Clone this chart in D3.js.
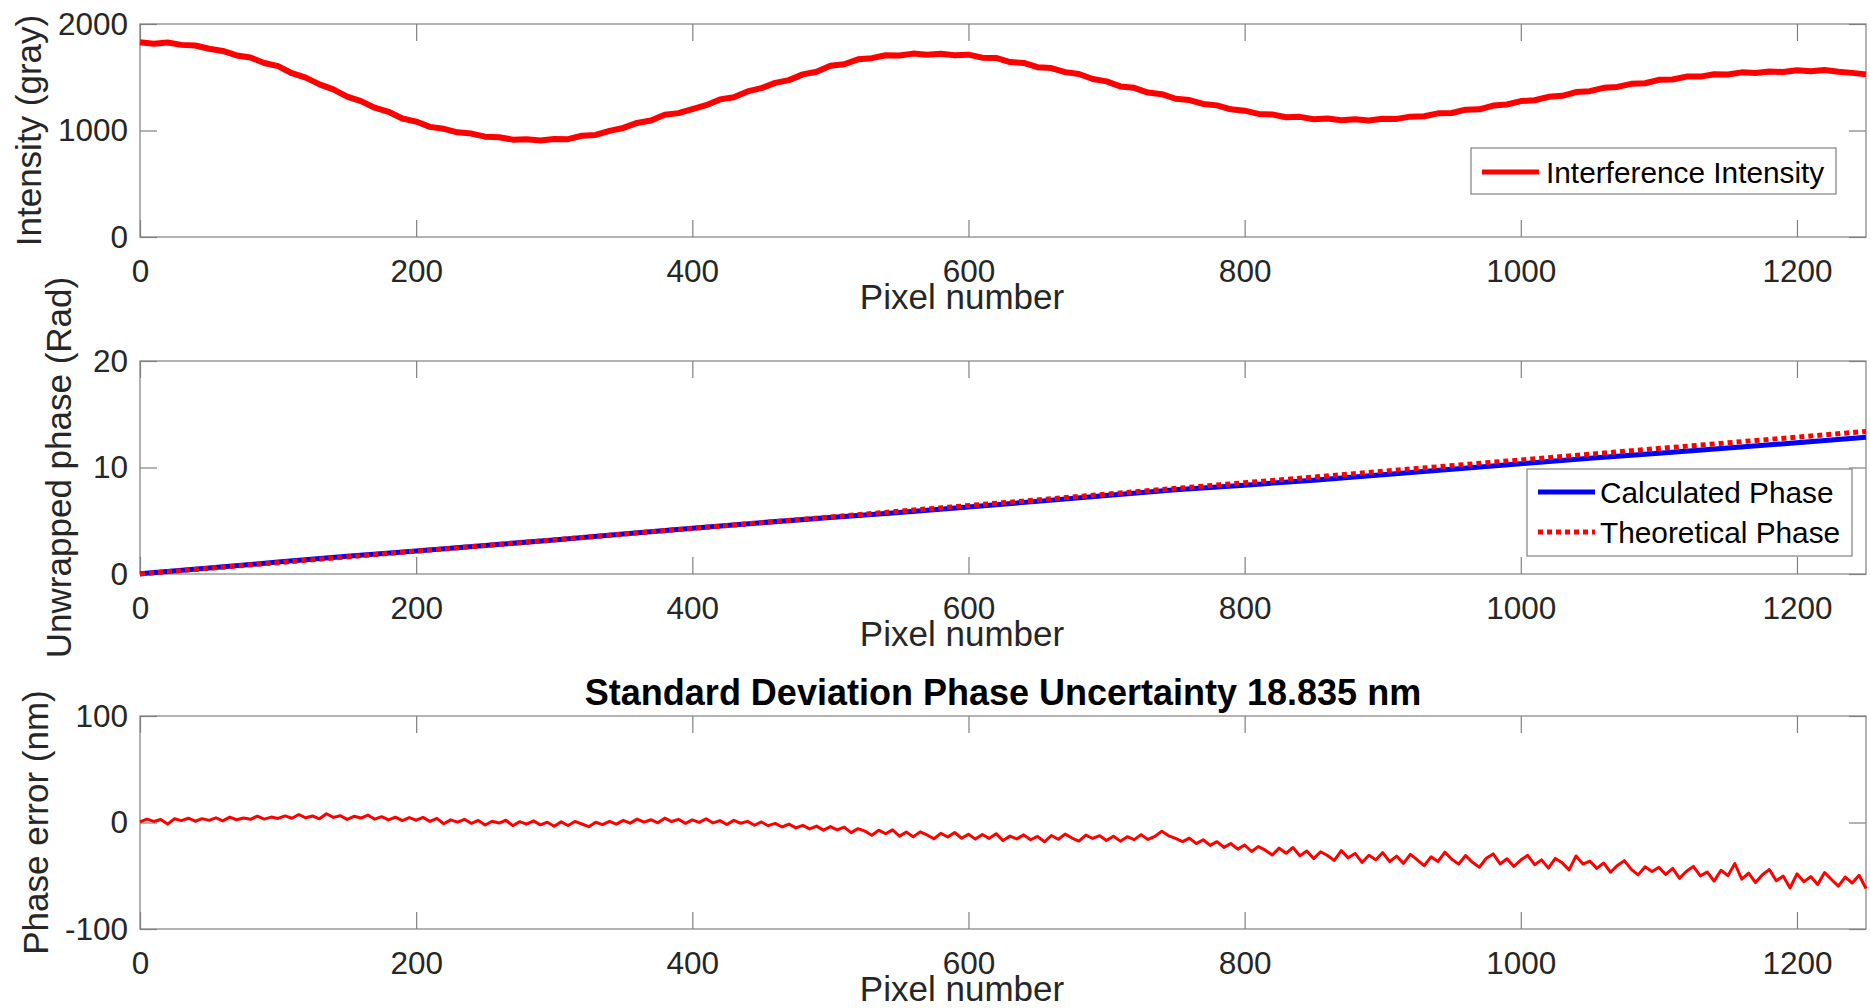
<!DOCTYPE html>
<html lang="en">
<head>
<meta charset="UTF-8">
<title>Interference intensity, unwrapped phase and phase error</title>
<style>
  body { margin: 0; background: #fff; }
  svg text { font-family: "Liberation Sans", Arial, sans-serif; }
  .axis path { display: none; }
  .axis line { stroke: #808080; stroke-width: 1.2; }
  .axis text { fill: #262626; font-size: 31.5px; }
  .frame { fill: none; stroke: #808080; stroke-width: 1.2; }
  .label { fill: #262626; font-size: 35px; }
</style>
<script src="https://cdn.jsdelivr.net/npm/d3@7/dist/d3.min.js"></script>
</head>
<body>
<script>

// ---- data ----
var pixelTicks = [0, 200, 400, 600, 800, 1000, 1200];
var intensityTicks = [0, 1000, 2000];
var phaseTicks = [0, 10, 20];
var errorTicks = [-100, 0, 100];

// interference intensity, one value every 10 pixels (0..1250)
var intensityStep = 10;
var intensity = [1828,1815,1826,1804,1798,1768,1747,1705,1686,1634,
                 1604,1538,1496,1433,1386,1318,1276,1214,1176,1113,
                 1084,1034,1016,983,971,942,937,914,917,906,
                 921,919,951,958,996,1024,1071,1094,1147,1163,
                 1201,1238,1292,1313,1367,1398,1447,1473,1527,1552,
                 1607,1622,1668,1679,1707,1704,1722,1712,1721,1706,
                 1712,1684,1681,1643,1634,1594,1586,1548,1531,1483,
                 1461,1414,1401,1356,1341,1298,1286,1249,1236,1199,
                 1186,1156,1151,1124,1128,1106,1112,1096,1106,1094,
                 1110,1109,1130,1134,1161,1164,1196,1199,1234,1244,
                 1276,1284,1316,1326,1361,1369,1401,1409,1438,1444,
                 1476,1479,1506,1506,1528,1526,1546,1539,1554,1549,
                 1565,1556,1568,1552,1541,1527];

// calculated phase, one value every 50 pixels
var phaseStep = 50;
var calculatedPhase = [0.02,0.56,1.12,1.66,2.17,2.68,3.20,3.76,4.30,4.82,
                       5.31,5.78,6.30,6.82,7.36,7.90,8.34,8.81,9.31,9.83,
                       10.35,10.87,11.33,11.82,12.33,12.84];
var theoreticalPixels = [0, 1250];
var theoreticalPhase = [0, 13.39];

// phase error (nm), one value every 5 pixels
var errorStep = 5;
var phaseError = [0.5,3.2,1.0,2.8,-1.5,3.5,1.8,4.0,1.2,3.6,2.0,4.4,1.5,5.0,2.6,4.2,3.0,6.0,3.2,5.1,3.8,
  6.2,4.0,7.5,4.4,6.1,3.5,8.2,4.8,6.4,2.9,5.8,4.2,7.0,3.1,5.5,2.4,5.0,1.8,4.6,2.2,
  4.8,1.0,3.9,-1.2,2.5,0.4,3.0,-0.8,1.9,-2.4,1.2,-0.5,2.1,-3.0,0.8,-1.6,1.5,-2.2,0.3,-3.5,
  0.6,-2.8,1.0,-1.4,-3.9,0.2,-2.0,1.1,-1.5,2.0,-0.6,3.2,0.4,2.6,-0.3,4.1,0.9,3.0,-0.8,2.4,
  0.1,3.5,-0.4,1.8,-1.9,2.0,-0.7,1.1,-2.6,0.5,-3.0,-0.8,-4.2,-1.5,-5.1,-2.7,-6.0,-3.4,-7.2,-3.8,
  -7.0,-4.4,-9.5,-5.8,-8.1,-11.9,-7.2,-10.6,-6.9,-12.8,-9.0,-13.5,-8.8,-11.7,-15.3,-10.2,-13.6,-9.4,-14.8,-11.0,
  -15.6,-11.2,-14.9,-10.5,-17.0,-12.8,-15.4,-11.6,-16.2,-13.0,-18.1,-12.2,-15.7,-10.9,-14.6,-17.4,-11.8,-15.0,-12.4,-16.8,
  -12.9,-17.5,-13.3,-16.1,-11.4,-15.9,-13.0,-8.2,-12.5,-15.0,-17.9,-14.6,-19.8,-16.2,-21.5,-18.0,-23.4,-19.7,-25.0,-21.1,
  -27.2,-22.6,-26.0,-30.5,-24.1,-28.9,-23.5,-31.2,-26.8,-33.9,-27.5,-31.0,-35.6,-26.4,-33.2,-29.0,-37.5,-30.8,-34.9,-28.2,
  -36.8,-31.5,-38.4,-29.9,-35.0,-40.6,-32.2,-36.7,-27.8,-34.5,-39.1,-31.0,-37.4,-42.0,-33.6,-29.5,-38.9,-34.0,-41.2,-35.3,
  -30.8,-39.6,-35.1,-42.8,-33.7,-37.9,-44.5,-31.4,-39.0,-36.2,-43.1,-38.0,-46.7,-40.3,-35.8,-44.0,-49.2,-41.5,-46.0,-42.1,
  -48.8,-43.0,-52.4,-45.7,-41.2,-50.1,-46.5,-55.0,-44.8,-49.9,-38.5,-53.2,-47.6,-56.4,-49.0,-44.2,-54.7,-50.3,-61.5,-48.2,
  -55.6,-50.8,-58.3,-46.9,-53.5,-59.7,-51.2,-56.8,-49.5,-62.0];

// ---- layout ----
var width = 1870, height = 1008;
var plotLeft = 140, plotRight = 1866, plotHeight = 213, tickLen = 17;
var xLabelCenter = 962;   // MATLAB puts the x label a bit left of the axis centre here

var svg = d3.select("body").append("svg")
            .attr("width", width)
            .attr("height", height);

var xScale = d3.scaleLinear().domain([0, 1250]).range([plotLeft, plotRight]);
var plain = function(d) { return String(d); };   // "-100", "1000" like the original

function drawPanel(top, yDomain, yTicks, yLabel, yLabelX) {
    var yScale = d3.scaleLinear().domain(yDomain).range([top + plotHeight, top]);

    svg.append("g").attr("class", "axis")
       .attr("transform", "translate(0," + (top + plotHeight) + ")")
       .call(d3.axisBottom(xScale).tickValues(pixelTicks).tickFormat(plain)
               .tickSizeInner(-tickLen).tickSizeOuter(0).tickPadding(22.6));
    svg.append("g").attr("class", "axis")
       .attr("transform", "translate(0," + top + ")")
       .call(d3.axisTop(xScale).tickValues(pixelTicks).tickSizeInner(-tickLen).tickSizeOuter(0).tickFormat(""));
    svg.append("g").attr("class", "axis")
       .attr("transform", "translate(" + plotLeft + ",0)")
       .call(d3.axisLeft(yScale).tickValues(yTicks).tickFormat(plain)
               .tickSizeInner(-tickLen).tickSizeOuter(0).tickPadding(12));
    svg.append("g").attr("class", "axis")
       .attr("transform", "translate(" + plotRight + ",0)")
       .call(d3.axisRight(yScale).tickValues(yTicks).tickSizeInner(-tickLen).tickSizeOuter(0).tickFormat(""));

    svg.append("rect").attr("class", "frame")
       .attr("x", plotLeft).attr("y", top)
       .attr("width", plotRight - plotLeft).attr("height", plotHeight);

    svg.append("text").attr("class", "label")
       .attr("x", xLabelCenter)
       .attr("y", top + plotHeight + 72)
       .attr("text-anchor", "middle")
       .text("Pixel number");

    svg.append("text").attr("class", "label")
       .attr("transform", "translate(" + yLabelX + "," + (top + plotHeight / 2) + ") rotate(-90)")
       .attr("text-anchor", "middle")
       .text(yLabel);

    return yScale;
}

function legend(x, y, w, h, rows) {
    var g = svg.append("g");
    g.append("rect").attr("x", x).attr("y", y).attr("width", w).attr("height", h)
     .attr("fill", "#fff").attr("stroke", "#808080").attr("stroke-width", 1.2);
    rows.forEach(function(r) {
        g.append("line")
         .attr("x1", x + 11).attr("x2", x + 68)
         .attr("y1", r.y).attr("y2", r.y)
         .attr("stroke", r.color).attr("stroke-width", 5)
         .attr("stroke-dasharray", r.dash || null);
        g.append("text")
         .attr("x", x + r.textOffset).attr("y", r.y + 10.7)
         .attr("font-size", "29.8px").attr("fill", "#000")
         .text(r.name);
    });
}

// ---- panel 1: intensity ----
var yInt = drawPanel(24, [0, 2000], intensityTicks, "Intensity (gray)", 41);
var intLine = d3.line()
                .x(function(d, i) { return xScale(i * intensityStep); })
                .y(function(d) { return yInt(d); });
svg.append("path").attr("d", intLine(intensity))
   .attr("fill", "none").attr("stroke", "#ff0000")
   .attr("stroke-width", 6).attr("stroke-linejoin", "round");

legend(1471, 148, 365, 46, [
    {name: "Interference Intensity", color: "#ff0000", y: 172, textOffset: 75}
]);

// ---- panel 2: unwrapped phase ----
var yPh = drawPanel(361, [0, 20], phaseTicks, "Unwrapped phase (Rad)", 71);
var calcLine = d3.line()
                 .x(function(d, i) { return xScale(i * phaseStep); })
                 .y(function(d) { return yPh(d); });
var theoLine = d3.line()
                 .x(function(d, i) { return xScale(theoreticalPixels[i]); })
                 .y(function(d) { return yPh(d); });
svg.append("path").attr("d", calcLine(calculatedPhase))
   .attr("fill", "none").attr("stroke", "#0000ff").attr("stroke-width", 5);
svg.append("path").attr("d", theoLine(theoreticalPhase))
   .attr("fill", "none").attr("stroke", "#ff0000").attr("stroke-width", 5)
   .attr("stroke-dasharray", "5,4");

legend(1527, 469, 325, 87, [
    {name: "Calculated Phase", color: "#0000ff", y: 492, textOffset: 73},
    {name: "Theoretical Phase", color: "#ff0000", y: 532, textOffset: 73, dash: "5,4"}
]);

// ---- panel 3: phase error ----
var yErr = drawPanel(716, [-100, 100], errorTicks, "Phase error (nm)", 48);
var errLine = d3.line()
                .x(function(d, i) { return xScale(i * errorStep); })
                .y(function(d) { return yErr(d); });
svg.append("path").attr("d", errLine(phaseError))
   .attr("fill", "none").attr("stroke", "#ff0000")
   .attr("stroke-width", 3).attr("stroke-linejoin", "round");

svg.append("text")
   .attr("x", (plotLeft + plotRight) / 2).attr("y", 705)
   .attr("text-anchor", "middle")
   .attr("font-size", "36px").attr("font-weight", "bold").attr("fill", "#000")
   .text("Standard Deviation Phase Uncertainty 18.835 nm");

</script>
</body>
</html>
